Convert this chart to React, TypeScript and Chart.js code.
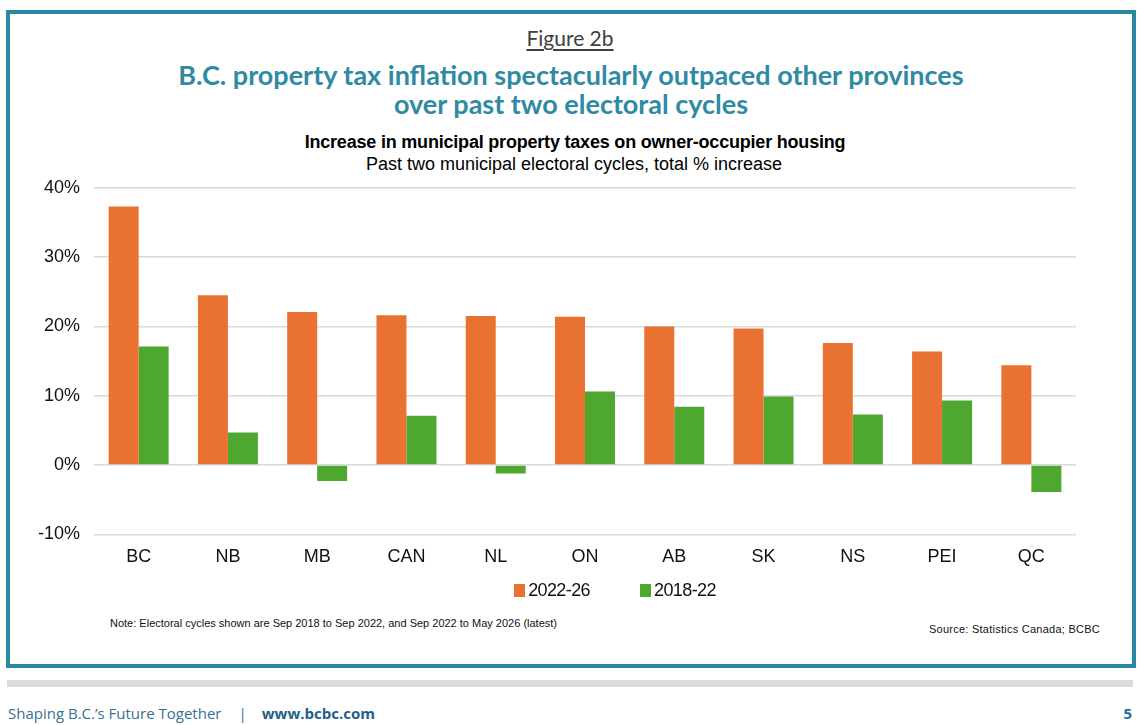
import React, { useEffect, useRef } from "react";
import { Chart, registerables } from "chart.js";
Chart.register(...registerables);

const categories = ["BC", "NB", "MB", "CAN", "NL", "ON", "AB", "SK", "NS", "PEI", "QC"];
const values2022_26 = [37.3, 24.5, 22.1, 21.6, 21.5, 21.4, 20.0, 19.7, 17.6, 16.4, 14.4];
const values2018_22 = [17.1, 4.7, -2.3, 7.1, -1.2, 10.6, 8.4, 9.9, 7.3, 9.3, -3.9];
const seriesLabels = ["2022-26", "2018-22"];
const seriesColors = ["#e97132", "#4ea72e"];
const yMin = -10;
const yMax = 40;
const yStep = 10;

const figureLabel = "Figure 2b";
const titleLines = [
  "B.C. property tax inflation spectacularly outpaced other provinces",
  "over past two electoral cycles",
];
const subtitle1 = "Increase in municipal property taxes on owner-occupier housing";
const subtitle2 = "Past two municipal electoral cycles, total % increase";
const noteText = "Note: Electoral cycles shown are Sep 2018 to Sep 2022, and Sep 2022 to May 2026 (latest)";
const sourceText = "Source: Statistics Canada; BCBC";

const ARIAL = '"Liberation Sans", Arial, sans-serif';

export default function App() {
  const canvasRef = useRef<HTMLCanvasElement | null>(null);

  useEffect(() => {
    document.body.style.margin = "0";
    const canvas = canvasRef.current;
    if (!canvas) return;
    const chart = new Chart(canvas, {
      type: "bar",
      data: {
        labels: categories,
        datasets: [
          {
            label: seriesLabels[0],
            data: values2022_26,
            backgroundColor: seriesColors[0],
            categoryPercentage: 0.672,
            barPercentage: 1,
          },
          {
            label: seriesLabels[1],
            data: values2018_22,
            backgroundColor: seriesColors[1],
            categoryPercentage: 0.672,
            barPercentage: 1,
          },
        ],
      },
      options: {
        animation: false,
        responsive: false,
        maintainAspectRatio: false,
        layout: { padding: { top: 12, right: 24, bottom: 0, left: 0 } },
        plugins: {
          legend: { display: false },
          tooltip: { enabled: false },
          title: { display: false },
        },
        scales: {
          x: {
            grid: { display: false, drawTicks: false },
            border: { display: false },
            ticks: {
              color: "#111",
              padding: 12,
              font: { family: ARIAL, size: 18 },
            },
          },
          y: {
            min: yMin,
            max: yMax,
            grid: { color: "#d9d9d9", lineWidth: 1.5, drawTicks: false },
            border: { display: false },
            ticks: {
              stepSize: yStep,
              color: "#111",
              padding: 14,
              font: { family: ARIAL, size: 18 },
              callback: (v: any) => `${v}%`,
            },
            afterFit: (scale: any) => {
              scale.width = 74;
            },
          },
        },
      },
    });
    return () => chart.destroy();
  }, []);

  const abs = (s: React.CSSProperties): React.CSSProperties => ({ position: "absolute", ...s });

  return (
    <div style={{ position: "relative", width: 1140, height: 725, background: "#fff", overflow: "hidden" }}>
      <div
        style={abs({
          left: 6,
          top: 10,
          width: 1130,
          height: 658,
          boxSizing: "border-box",
          border: "4px solid #2a89a2",
        })}
      />
      <div
        style={abs({
          left: 0,
          width: 1140,
          top: 25,
          textAlign: "center",
          fontFamily: "Lato, sans-serif",
          fontSize: 21,
          color: "#404040",
          lineHeight: "26px",
        })}
      >
        <span style={{ textDecoration: "underline", textUnderlineOffset: 3 }}>{figureLabel}</span>
      </div>
      <div
        style={abs({
          left: 0,
          width: 1142,
          top: 60,
          textAlign: "center",
          fontFamily: "Lato, sans-serif",
          fontWeight: 700,
          fontSize: 27,
          letterSpacing: 0,
          color: "#2f8aa3",
          lineHeight: "29px",
        })}
      >
        {titleLines.map((t, i) => (
          <div key={i}>{t}</div>
        ))}
      </div>
      <div
        style={abs({
          left: 0,
          width: 1150,
          top: 131,
          textAlign: "center",
          fontFamily: ARIAL,
          fontWeight: 700,
          fontSize: 18,
          letterSpacing: -0.2,
          color: "#000",
          lineHeight: "22px",
        })}
      >
        {subtitle1}
      </div>
      <div
        style={abs({
          left: 0,
          width: 1148,
          top: 153,
          textAlign: "center",
          fontFamily: ARIAL,
          fontSize: 18,
          letterSpacing: 0,
          color: "#000",
          lineHeight: "22px",
        })}
      >
        {subtitle2}
      </div>
      <canvas
        ref={canvasRef}
        width={1080}
        height={417}
        style={abs({ left: 20, top: 163, width: 1080, height: 417 })}
      />
      <div
        style={abs({
          left: 0,
          width: 1140,
          top: 579,
          display: "flex",
          justifyContent: "center",
          paddingLeft: 90,
          boxSizing: "border-box",
          fontFamily: ARIAL,
          fontSize: 18,
          letterSpacing: -0.6,
          color: "#111",
          lineHeight: "22px",
        })}
      >
        {seriesLabels.map((l, i) => (
          <div key={l} style={{ display: "flex", alignItems: "center", marginRight: i === 0 ? 50 : 0 }}>
            <span style={{ display: "inline-block", width: 11, height: 13, background: seriesColors[i], marginRight: 3 }} />
            <span>{l}</span>
          </div>
        ))}
      </div>
      <div
        style={abs({
          left: 110,
          top: 616,
          fontFamily: ARIAL,
          fontSize: 11,
          letterSpacing: 0,
          color: "#111",
          whiteSpace: "nowrap",
          lineHeight: "14px",
        })}
      >
        {noteText}
      </div>
      <div
        style={abs({
          right: 40,
          top: 622,
          fontFamily: ARIAL,
          fontSize: 11,
          letterSpacing: 0.25,
          color: "#111",
          whiteSpace: "nowrap",
          lineHeight: "14px",
        })}
      >
        {sourceText}
      </div>
      <div style={abs({ left: 7, top: 680, width: 1126, height: 7, background: "#d9dcdf" })} />
      <div
        style={abs({
          left: 8,
          top: 703,
          fontFamily: '"Open Sans", sans-serif',
          fontSize: 15,
          color: "#3d6f8f",
          whiteSpace: "nowrap",
          lineHeight: "20px",
        })}
      >
        Shaping B.C.’s Future Together
        <span style={{ margin: "0 15px 0 17px" }}>|</span>
        <span style={{ fontWeight: 700, color: "#1f5f8b" }}>www.bcbc.com</span>
      </div>
      <div
        style={abs({
          right: 8,
          top: 703,
          fontFamily: '"Open Sans", sans-serif',
          fontSize: 15,
          fontWeight: 700,
          color: "#2a6f95",
          lineHeight: "20px",
        })}
      >
        5
      </div>
    </div>
  );
}
